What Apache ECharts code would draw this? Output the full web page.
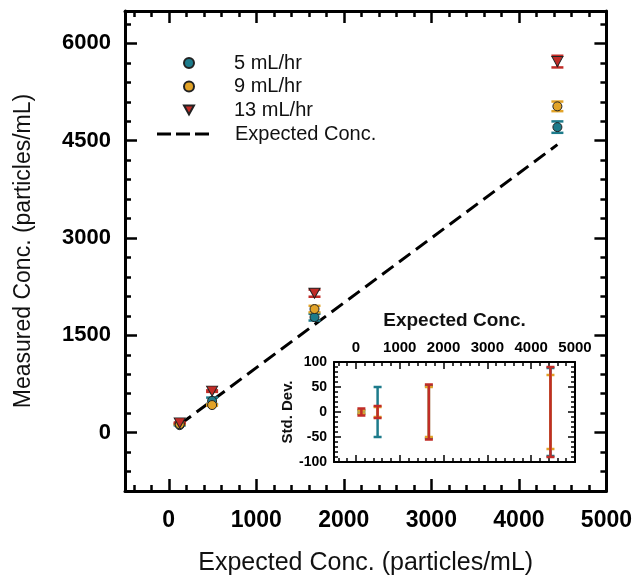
<!DOCTYPE html>
<html>
<head>
<meta charset="utf-8">
<script src="https://cdn.jsdelivr.net/npm/echarts@6/dist/echarts.min.js"></script>
<style>
  html, body { margin: 0; padding: 0; background: #fff; }
  #chart { width: 635px; height: 581px; }
</style>
</head>
<body>
<div id="chart"></div>
<script>
// 数据：期望浓度（x）与三种流速下的测量浓度
var expected = [125, 495, 1665, 4440];
var measured5 = [115, 490, 1780, 4710];
var measured9 = [130, 425, 1905, 5030];
var measured13 = [150, 640, 2150, 5720];
// 标准差（插图中的误差棒）
var std5 = [3, 50, 52, 88];
var std9 = [3, 10, 50, 74];
var std13 = [7, 12, 55, 90];
// 刻度
var mainXLabels = [0, 1000, 2000, 3000, 4000, 5000];
var mainYLabels = [0, 1500, 3000, 4500, 6000];
var insetXLabels = [0, 1000, 2000, 3000, 4000, 5000];
var insetYLabels = [-100, -50, 0, 50, 100];

var names = ['5 mL/hr', '9 mL/hr', '13 mL/hr'];
var colors = ['#1d7b8b', '#e2a328', '#c12c27'];
var measured = [measured5, measured9, measured13];
var stds = [std5, std9, std13];

var FONT = 'Liberation Sans, Arial, sans-serif';

function steps(from, to, step) {
  var out = [];
  for (var v = from; v <= to + 1e-9; v += step) out.push(v);
  return out;
}

// 误差棒
function errorBar(capHalf, lw, color) {
  return function (params, api) {
    var x = api.value(0);
    var top = api.coord([x, api.value(2)]);
    var bot = api.coord([x, api.value(1)]);
    var st = { stroke: color, lineWidth: lw };
    return {
      type: 'group',
      children: [
        { type: 'line', shape: { x1: top[0], y1: top[1], x2: bot[0], y2: bot[1] }, style: st },
        { type: 'line', shape: { x1: top[0] - capHalf, y1: top[1], x2: top[0] + capHalf, y2: top[1] }, style: st },
        { type: 'line', shape: { x1: bot[0] - capHalf, y1: bot[1], x2: bot[0] + capHalf, y2: bot[1] }, style: st }
      ]
    };
  };
}

// 坐标轴（一个主刻度轴 + 一个次刻度轴）
function axPair(grid, pos, min, max, major, minor, majLen, minLen, lw, tw, labels) {
  return [
    {
      type: 'value', gridIndex: grid, position: pos, min: min, max: max,
      axisLine: { show: true, onZero: false, lineStyle: { color: '#000', width: lw } },
      axisTick: { show: true, inside: true, length: majLen, customValues: major, lineStyle: { color: '#000', width: tw } },
      axisLabel: labels ? Object.assign({
        show: true, customValues: major, color: '#000', fontFamily: FONT,
        formatter: function (v) { return String(v); }
      }, labels) : { show: false },
      splitLine: { show: false }
    },
    {
      type: 'value', gridIndex: grid, position: pos, min: min, max: max,
      axisLine: { show: false, onZero: false },
      axisTick: { show: true, inside: true, length: minLen, customValues: minor, lineStyle: { color: '#000', width: tw } },
      axisLabel: { show: false },
      splitLine: { show: false }
    }
  ];
}

var xAxes = [].concat(
  axPair(0, 'bottom', -500, 5000, mainXLabels, steps(-400, 4800, 200), 12, 6, 3, 2.5,
    { fontSize: 23, fontWeight: 'bold', margin: 18 }),
  axPair(0, 'top', -500, 5000, mainXLabels, steps(-400, 4800, 200), 12, 6, 3, 2.5, null),
  axPair(1, 'bottom', -500, 5000, insetXLabels, steps(-400, 4800, 200), 7, 4, 2, 1.5, null),
  axPair(1, 'top', -500, 5000, insetXLabels, steps(-400, 4800, 200), 7, 4, 2, 1.5,
    { fontSize: 15, fontWeight: 'bold', margin: 7 })
);
var yAxes = [].concat(
  axPair(0, 'left', -900, 6500, mainYLabels, steps(-900, 6300, 300), 12, 6, 3, 2.5,
    { fontSize: 22, fontWeight: 'bold', margin: 14 }),
  axPair(0, 'right', -900, 6500, mainYLabels, steps(-900, 6300, 300), 12, 6, 3, 2.5, null),
  axPair(1, 'left', -100, 100, insetYLabels, steps(-100, 100, 10), 7, 4, 2, 1.5,
    { fontSize: 14, fontWeight: 'bold', margin: 7 }),
  axPair(1, 'right', -100, 100, insetYLabels, steps(-100, 100, 10), 7, 4, 2, 1.5, null)
);

// 轴标题
Object.assign(xAxes[0], {
  name: 'Expected Conc. (particles/mL)', nameLocation: 'middle', nameGap: 60,
  nameTextStyle: { fontSize: 25, color: '#111', fontFamily: FONT }
});
Object.assign(yAxes[0], {
  name: 'Measured Conc. (particles/mL)', nameLocation: 'middle', nameGap: 90,
  nameTextStyle: { fontSize: 23, color: '#111', fontFamily: FONT }
});
Object.assign(xAxes[6], {
  name: 'Expected Conc.', nameLocation: 'middle', nameGap: 32,
  nameTextStyle: { fontSize: 19, fontWeight: 'bold', color: '#111', fontFamily: FONT }
});
Object.assign(yAxes[4], {
  name: 'Std. Dev.', nameLocation: 'middle', nameGap: 38,
  nameTextStyle: { fontSize: 15, fontWeight: 'bold', color: '#111', fontFamily: FONT }
});

var symbols = ['circle', 'circle', 'path://M0,0 L10,0 L5,9 Z'];
var sizes = [9, 9, [11, 10]];

var series = [];
// 主图误差棒
for (var i = 0; i < 3; i++) {
  series.push({
    name: 'err' + i, type: 'custom', xAxisIndex: 0, yAxisIndex: 0, z: 3,
    renderItem: errorBar(6, 2.5, colors[i]),
    encode: { x: 0, y: [1, 2] },
    data: expected.map(function (x, k) { return [x, measured[i][k] - stds[i][k], measured[i][k] + stds[i][k]]; })
  });
}
// 期望浓度虚线
series.push({
  name: 'Expected Conc.', type: 'line', xAxisIndex: 0, yAxisIndex: 0, z: 2,
  symbol: 'none', color: '#000',
  lineStyle: { color: '#000', width: 3, type: [14, 7] },
  data: expected.map(function (x) { return [x, x]; })
});
// 主图散点
for (var j = 0; j < 3; j++) {
  series.push({
    name: names[j], type: 'scatter', xAxisIndex: 0, yAxisIndex: 0, z: 4,
    symbol: symbols[j], symbolSize: sizes[j],
    itemStyle: { color: colors[j], borderColor: '#222', borderWidth: 1, opacity: 1 },
    data: expected.map(function (x, k) { return [x, measured[j][k]]; })
  });
}
// 插图：标准差
for (var m = 0; m < 3; m++) {
  series.push({
    name: 'std' + m, type: 'custom', xAxisIndex: 4, yAxisIndex: 4, z: 3,
    renderItem: errorBar(4, 2.5, colors[m]),
    encode: { x: 0, y: [1, 2] },
    data: expected.map(function (x, k) { return [x, -stds[m][k], stds[m][k]]; })
  });
}

var option = {
  animation: false,
  backgroundColor: '#fff',
  textStyle: { fontFamily: FONT },
  grid: [
    { left: 125, top: 11, width: 483, height: 482 },
    { left: 334, top: 362, width: 241, height: 100 }
  ],
  xAxis: xAxes,
  yAxis: yAxes,
  legend: [
    {
      data: names, orient: 'vertical', left: 178, top: 48,
      itemWidth: 10, itemHeight: 10, itemGap: 3.5,
      selectedMode: false,
      textStyle: { fontSize: 20, color: '#111', fontFamily: FONT, lineHeight: 20, padding: [0, 0, 0, 35] }
    },
    {
      data: [{ name: 'Expected Conc.', icon: 'path://M0,0 h14 v3 h-14 Z M19,0 h14 v3 h-14 Z M38,0 h14 v3 h-14 Z' }],
      orient: 'vertical', left: 152, top: 119,
      itemWidth: 52, itemHeight: 3, selectedMode: false,
      itemStyle: { color: '#000', borderWidth: 0 },
      textStyle: { fontSize: 20, color: '#111', fontFamily: FONT, lineHeight: 20, padding: [0, 0, 0, 21] }
    }
  ],
  series: series
};

var myChart = echarts.init(document.getElementById('chart'));
myChart.setOption(option);
</script>
</body>
</html>
